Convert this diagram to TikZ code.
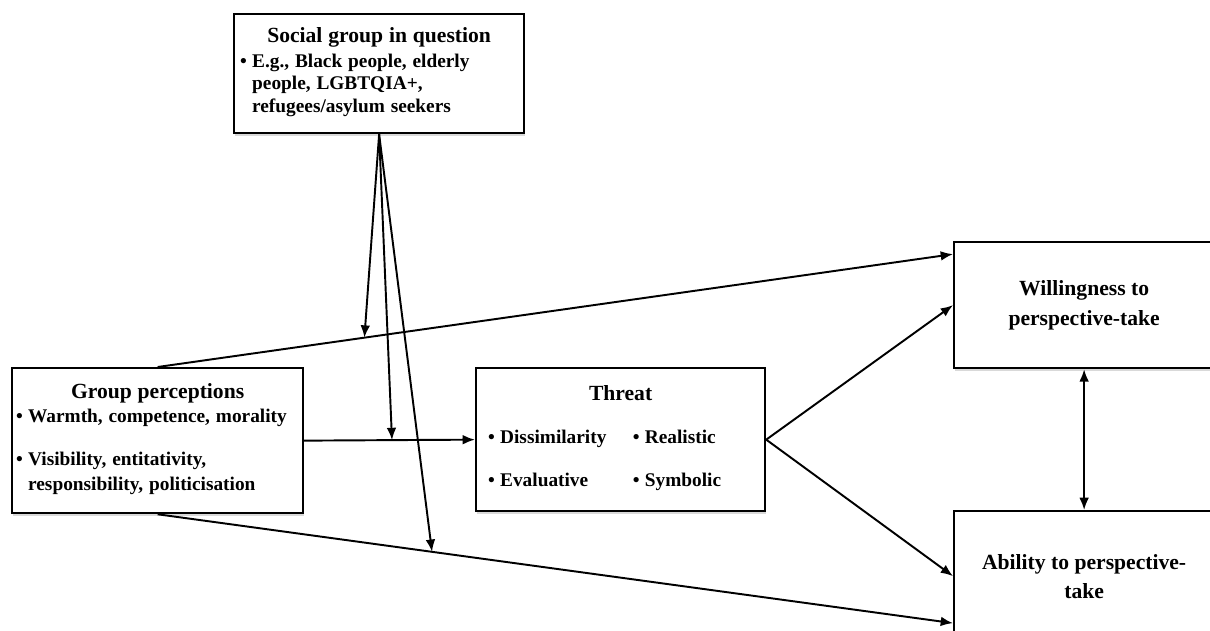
\documentclass[tikz,border=0pt]{standalone}
\usepackage{fontspec}
\setmainfont{Liberation Serif}
\usetikzlibrary{arrows.meta,shadows}
\tikzset{
  caja/.style={draw, line width=1.3pt, fill=white, inner sep=0pt, anchor=north west,
    drop shadow={shadow xshift=0.6pt, shadow yshift=-1.4pt, opacity=0.3}, font=\bfseries},
  flecha/.style={-{Latex[length=7pt,width=5.5pt]}, line width=1.1pt},
  doble/.style={{Latex[length=7pt,width=5.5pt]}-{Latex[length=7pt,width=5.5pt]}, line width=1.1pt}
}
\newcommand{\titulo}{\fontsize{12.3}{15}\selectfont}
\newcommand{\punto}{\fontsize{11}{13}\selectfont}
\begin{document}
\begin{tikzpicture}[x=0.02cm,y=-0.02cm]
\clip (0,0) rectangle (1210,630);
% Grupo social
\node[caja, minimum width=5.8cm, minimum height=2.38cm, text width=5.56cm] (social) at (233,13) {%
  {\centering\titulo Social group in question\par}\vspace{1pt}
  {\punto\begin{tabular}{@{}l@{\hspace{3pt}}l@{}}
  \textbullet & E.g., Black people, elderly\\
  & people, LGBTQIA+,\\
  & refugees/asylum seekers
  \end{tabular}}};
% Percepciones
\node[caja, minimum width=5.82cm, minimum height=2.9cm, text width=5.66cm] (gp) at (11,367) {%
  {\centering\titulo Group perceptions\par}
  {\fontsize{11}{14.3}\selectfont\begin{tabular}{@{}l@{\hspace{3pt}}l@{}}
  \textbullet & Warmth, competence, morality\\[10pt]
  \textbullet & Visibility, entitativity,\\
  & responsibility, politicisation
  \end{tabular}}};
% Amenaza
\node[caja, minimum width=5.78cm, minimum height=2.86cm, text width=5.3cm] (threat) at (475,367) {%
  {\centering\titulo Threat\par}\vspace{14pt}
  {\punto\begin{tabular}{@{}l@{\hspace{3pt}}l@{\hspace{15pt}}l@{\hspace{3pt}}l@{}}
  \textbullet & Dissimilarity & \textbullet & Realistic\\[12pt]
  \textbullet & Evaluative & \textbullet & Symbolic
  \end{tabular}}};
% Resultados
\node[caja, minimum width=5.2cm, minimum height=2.52cm, align=center,
  font=\bfseries\fontsize{12.3}{17}\selectfont] (will) at (953,241) {Willingness to\\perspective-take};
\node[caja, minimum width=5.2cm, minimum height=2.6cm, align=center,
  font=\bfseries\fontsize{12.3}{16.5}\selectfont] (abil) at (953,510) {Ability to perspective-\\take};
% Flechas
\draw[flecha] (gp.north) -- coordinate[pos=0.26] (m1) ([yshift=1.02cm]will.west);
\draw[flecha] (gp.east) -- coordinate[pos=0.514] (m2) (threat.west);
\draw[flecha] (gp.south) -- coordinate[pos=0.345] (m3) ([yshift=-0.94cm]abil.west);
\draw[flecha] (threat.east) -- (will.west);
\draw[flecha] (threat.east) -- (abil.west);
\draw[doble] (will.south) -- (abil.north);
% Moderador
\draw[flecha] (social.south) -- (m1);
\draw[flecha] (social.south) -- (m2);
\draw[flecha] (social.south) -- (m3);
\end{tikzpicture}
\end{document}
